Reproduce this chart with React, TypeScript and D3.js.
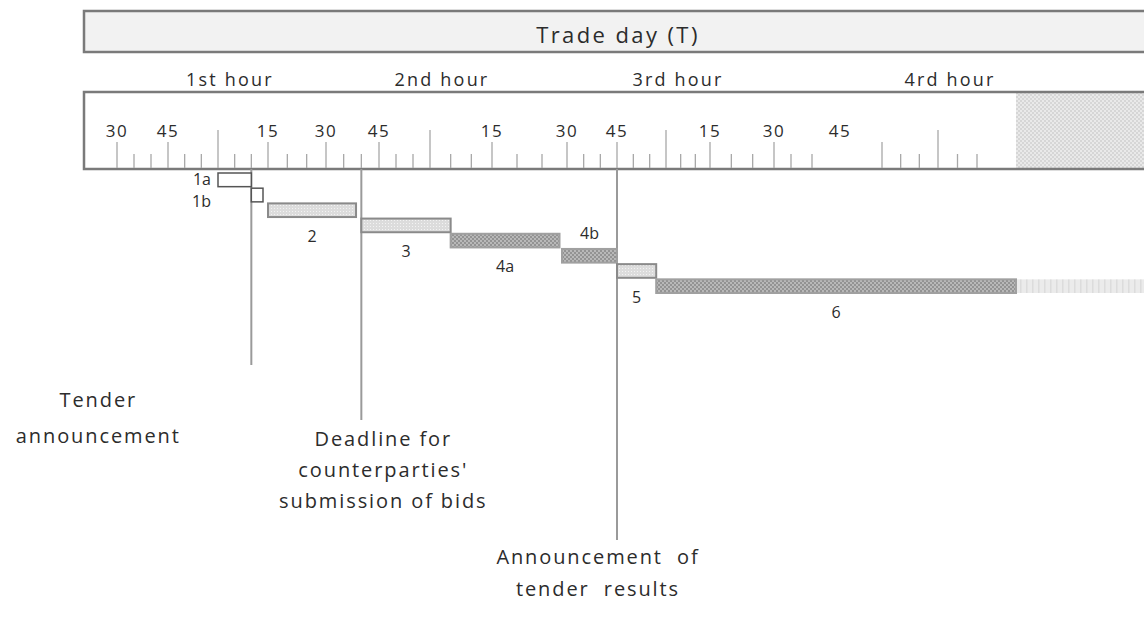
import React from "react";
import * as d3 from "d3";

// timeline of a quick tender, minutes counted from the start of the 1st hour

const tickMinutes = d3.range(-30, 195, 5);
const quarterMinutes = [-30, -15, 15, 30, 45, 75, 90, 105, 135, 150, 162];
const quarterTexts = ["30", "45", "15", "30", "45", "15", "30", "45", "15", "30", "45"];
const hourStarts = [0, 60, 120, 180];
const hourNames = ["1st hour", "2nd hour", "3rd hour", "4rd hour"];

const stepNames = ["1a", "1b", "2", "3", "4a", "4b", "5", "6"];
const stepStart = [0, 10, 15, 40, 65, 89, 105, 117];
const stepEnd = [10, 13.5, 38.5, 65, 88.5, 105, 117, 200];
const stepKind = ["empty", "empty", "light", "light", "dark", "dark", "light", "dark"];
const stepLabelSide = ["left", "leftBelow", "below", "below", "below", "above", "below", "below"];

const dayClose = 200;
const viewEnd = 240;

const eventMinutes = [10, 40, 105];
const eventTexts = [
  ["Tender", "announcement"],
  ["Deadline for", "counterparties'", "submission of bids"],
  ["Announcement  of", "tender  results"],
];

// the drawing's ruler is not evenly spaced, so the scale is piecewise
const rulerStops = [-30, -15, 0, 15, 30, 45, 60, 75, 90, 105, 120, 135, 150, 155, 160, 165, 180, 190, 200];
const rulerPx = [117, 168, 218, 268, 326, 379, 430, 492, 567, 617, 666, 710, 774, 791, 812, 882, 938, 977, 1016];

// layout of the annotation blocks
const eventLineEnd = [365, 420, 540];
const eventDx = [-153, 22, -19];
const eventTop = [407, 446, 564];
const eventLead = [36, 31, 32];

const W = 1144, H = 617;
const FONT = "'Open Sans', sans-serif";
const INK = "#2c2c2c";

export default function App() {
  const x = d3.scaleLinear().domain(rulerStops).range(rulerPx);
  const y = d3.scaleBand().domain(stepNames).range([173, 293]).paddingInner(0.1);

  const rulerTop = 92, rulerBottom = 169;
  const tickLen = (m: number) => (m % 60 === 0 ? 38 : m % 15 === 0 ? 26 : 14);

  const fillFor = (k: string) =>
    k === "empty" ? "#ffffff" : k === "light" ? "url(#lightDots)" : "url(#darkCheck)";
  const strokeFor = (k: string) => (k === "empty" ? "#555" : k === "light" ? "#8a8a8a" : "#a0a0a0");

  return (
    <svg width={W} height={H} style={{ position: "absolute", left: 0, top: 0, background: "#fff" }}>
      <defs>
        <pattern id="lightDots" width="3" height="3" patternUnits="userSpaceOnUse">
          <rect width="3" height="3" fill="#dcdcdc" />
          <rect x="1" y="1" width="1" height="1" fill="#f3f3f3" />
        </pattern>
        <pattern id="darkCheck" width="4" height="4" patternUnits="userSpaceOnUse">
          <rect width="4" height="4" fill="#939393" />
          <circle cx="1" cy="1" r="0.9" fill="#cacaca" />
          <circle cx="3" cy="3" r="0.9" fill="#cacaca" />
        </pattern>
        <pattern id="shade" width="4" height="4" patternUnits="userSpaceOnUse">
          <rect width="4" height="4" fill="#e9e9e9" />
          <rect width="2" height="2" fill="#d6d6d6" />
          <rect x="2" y="2" width="2" height="2" fill="#d6d6d6" />
        </pattern>
        <pattern id="fade" width="6" height="4" patternUnits="userSpaceOnUse">
          <rect width="6" height="4" fill="#ebebeb" />
          <rect width="1.5" height="4" fill="#dcdcdc" />
        </pattern>
      </defs>

      {/* trade day banner */}
      <rect x={84} y={11} width={1070} height={41} fill="#f2f2f2" stroke="#7a7a7a" strokeWidth={2.5} />
      <text x={618} y={43} textAnchor="middle" fontFamily={FONT} fontSize={22} fill={INK} letterSpacing={2.4}>
        Trade day (T)
      </text>

      {/* hour names */}
      {hourStarts.map((m, i) => (
        <text key={"h" + i} x={x(m) + 12} y={86} textAnchor="middle" fontFamily={FONT} fontSize={18}
          fill={INK} letterSpacing={2.2}>
          {hourNames[i]}
        </text>
      ))}

      {/* ruler */}
      <rect x={x(dayClose)} y={rulerTop} width={x(viewEnd) - x(dayClose) + 20} height={rulerBottom - rulerTop}
        fill="url(#shade)" />
      <rect x={84} y={rulerTop} width={1070} height={rulerBottom - rulerTop} fill="none" stroke="#7a7a7a"
        strokeWidth={2.5} />
      {tickMinutes.map((m) => (
        <line key={"t" + m} x1={x(m)} x2={x(m)} y1={rulerBottom - 1} y2={rulerBottom - 1 - tickLen(m)}
          stroke="#a8a8a8" strokeWidth={1.3} />
      ))}
      {quarterMinutes.map((m, i) => (
        <text key={"q" + i} x={x(m)} y={137} textAnchor="middle" fontFamily={FONT} fontSize={17} fill={INK}
          letterSpacing={1.5}>
          {quarterTexts[i]}
        </text>
      ))}

      {/* event lines */}
      {eventMinutes.map((m, i) => (
        <line key={"e" + i} x1={x(m)} x2={x(m)} y1={rulerBottom} y2={eventLineEnd[i]} stroke="#9a9a9a"
          strokeWidth={2} />
      ))}

      {/* steps */}
      <rect x={x(dayClose)} y={y("6")!} width={x(viewEnd) - x(dayClose) + 20} height={y.bandwidth()}
        fill="url(#fade)" />
      {stepNames.map((s, i) => {
        const x0 = x(stepStart[i]), x1 = x(stepEnd[i]);
        const top = y(s)!, h = y.bandwidth();
        const side = stepLabelSide[i];
        const left = side === "left" || side === "leftBelow";
        const lx = left ? 211 : (x0 + x1) / 2;
        const ly =
          side === "left" ? top + h / 2 + 5 :
          side === "leftBelow" ? top + h + 5 :
          side === "above" ? top - 10 : top + h + 25;
        return (
          <g key={"s" + s}>
            <rect x={x0} y={top} width={x1 - x0} height={h} fill={fillFor(stepKind[i])}
              stroke={strokeFor(stepKind[i])} strokeWidth={stepKind[i] === "empty" ? 1.5 : 2} />
            <text x={lx} y={ly} textAnchor={left ? "end" : "middle"} fontFamily={FONT} fontSize={16}
              fill={INK}>
              {s}
            </text>
          </g>
        );
      })}

      {/* event annotations */}
      {eventMinutes.map((m, i) => (
        <text key={"a" + i} fontFamily={FONT} fontSize={20} fill={INK} textAnchor="middle" letterSpacing={1.9}
          style={{ whiteSpace: "pre" }}>
          {eventTexts[i].map((line, j) => (
            <tspan key={j} x={x(m) + eventDx[i]} y={eventTop[i] + j * eventLead[i]}>
              {line}
            </tspan>
          ))}
        </text>
      ))}
    </svg>
  );
}
